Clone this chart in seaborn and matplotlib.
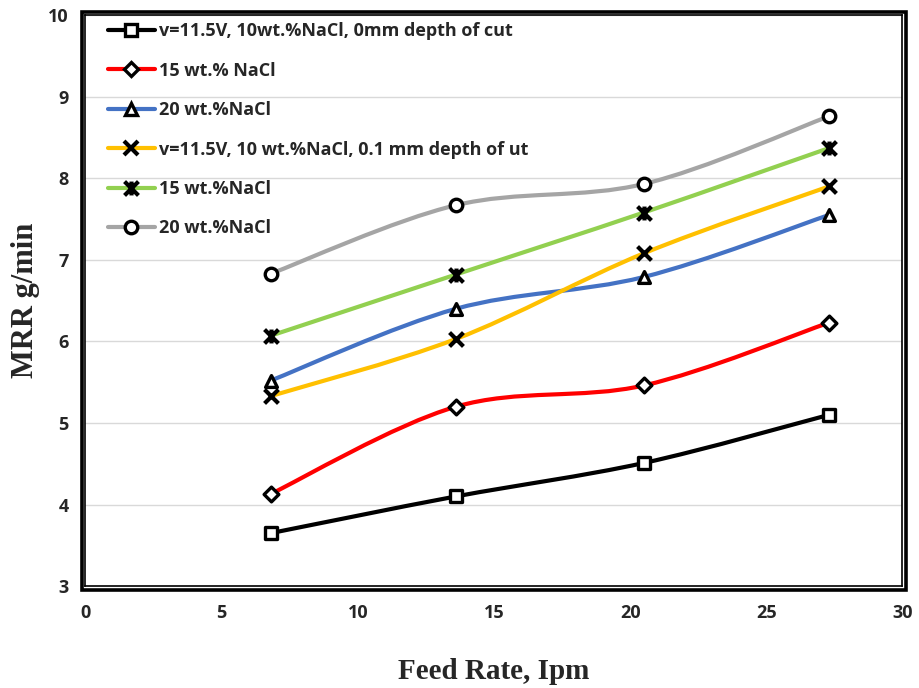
import numpy as np
import pandas as pd
import matplotlib
matplotlib.use("Agg")
import matplotlib.pyplot as plt
import seaborn as sns
from matplotlib.path import Path
from matplotlib.patches import PathPatch, Rectangle
from matplotlib.lines import Line2D

feed_rate = [6.8, 13.6, 20.5, 27.3]
labels = [
    "v=11.5V, 10wt.%NaCl, 0mm depth of cut",
    "15 wt.% NaCl",
    "20 wt.%NaCl",
    "v=11.5V, 10 wt.%NaCl, 0.1 mm depth of ut",
    "15 wt.%NaCl",
    "20 wt.%NaCl",
]
mrr_0mm_10 = [3.65, 4.10, 4.51, 5.10]
mrr_0mm_15 = [4.13, 5.20, 5.46, 6.23]
mrr_0mm_20 = [5.52, 6.40, 6.79, 7.55]
mrr_01mm_10 = [5.33, 6.03, 7.08, 7.90]
mrr_01mm_15 = [6.07, 6.82, 7.58, 8.37]
mrr_01mm_20 = [6.83, 7.67, 7.93, 8.76]

series = [mrr_0mm_10, mrr_0mm_15, mrr_0mm_20, mrr_01mm_10, mrr_01mm_15, mrr_01mm_20]
colors = ["#000000", "#FF0000", "#4472C4", "#FFC000", "#92D050", "#A5A5A5"]

star = Path([(-1, -1), (1, 1), (-1, 1), (1, -1), (0, -1), (0, 1)],
            [Path.MOVETO, Path.LINETO, Path.MOVETO, Path.LINETO, Path.MOVETO, Path.LINETO])
markers = ["s", "D", "^", "x", star, "o"]
msizes = [8.5, 7.5, 8.5, 10, 10, 9]

sns.set_theme(style="white")
plt.rcParams['font.family'] = ['DejaVu Sans']

fig = plt.figure(figsize=(9.19, 6.88), dpi=100)
ax = fig.add_axes([0.093, 0.148, 0.889, 0.830])


def smooth_path(xs, ys):
    pts = np.column_stack([xs, ys]).astype(float)
    n = len(pts)
    verts = [pts[0]]
    codes = [Path.MOVETO]
    for i in range(n - 1):
        p0 = pts[i - 1] if i > 0 else pts[i]
        p1 = pts[i]
        p2 = pts[i + 1]
        p3 = pts[i + 2] if i + 2 < n else pts[i + 1]
        c1 = p1 + (p2 - p0) / 6.0
        c2 = p2 - (p3 - p1) / 6.0
        verts += [c1, c2, p2]
        codes += [Path.CURVE4] * 3
    return Path(verts, codes)


LW = 3.0
handles = []
for vals, col, mk, ms in zip(series, colors, markers, msizes):
    ax.add_patch(PathPatch(smooth_path(feed_rate, vals), facecolor="none",
                           edgecolor=col, lw=LW, zorder=2, capstyle="round"))
    df = pd.DataFrame({"x": feed_rate, "y": vals})
    line_marker = isinstance(mk, Path) or mk == "x"
    if line_marker:
        sns.scatterplot(data=df, x="x", y="y", marker=mk, s=ms ** 2, color="black",
                        edgecolor="black", linewidth=3.0, ax=ax, zorder=3, legend=False)
        h = Line2D([], [], color=col, lw=LW, marker=mk, markersize=ms,
                   markeredgecolor="black", markerfacecolor="black", markeredgewidth=3.0)
    else:
        sns.scatterplot(data=df, x="x", y="y", marker=mk, s=ms ** 2, color="white",
                        edgecolor="black", linewidth=2.4, ax=ax, zorder=3, legend=False)
        h = Line2D([], [], color=col, lw=LW, marker=mk, markersize=ms,
                   markerfacecolor="white", markeredgecolor="black", markeredgewidth=2.4)
    handles.append(h)

ax.set_xlim(0, 30)
ax.set_ylim(3, 10)
ax.set_xticks(range(0, 31, 5))
ax.set_yticks(range(3, 11))
ax.yaxis.grid(True, color="#D9D9D9", lw=1.0)
ax.xaxis.grid(False)
ax.set_axisbelow(True)
ax.tick_params(axis="x", length=0, pad=13)
ax.tick_params(axis="y", length=0, pad=12)
for lab in ax.get_xticklabels() + ax.get_yticklabels():
    lab.set_fontfamily("Open Sans")
    lab.set_fontweight("bold")
    lab.set_fontsize(13)

# double frame: thin inner line + thick outer line
for sp in ax.spines.values():
    sp.set_visible(True)
    sp.set_color("black")
    sp.set_linewidth(1.2)
fw, fh = fig.get_size_inches() * fig.dpi
bbox = ax.get_position()
dx = 3.5 / (bbox.width * fw)
dy = 3.5 / (bbox.height * fh)
ax.add_patch(Rectangle((-dx, -dy), 1 + 2 * dx, 1 + 2 * dy, transform=ax.transAxes,
                       fill=False, edgecolor="black", lw=2.6, clip_on=False, zorder=5))

ax.set_xlabel("Feed Rate, Ipm", fontfamily="Liberation Serif", fontweight="bold",
              fontsize=21, labelpad=26)
ax.set_ylabel("MRR g/min", fontfamily="Liberation Serif", fontweight="bold",
              fontsize=22, labelpad=6)

ax.legend(handles, labels, loc="upper left", bbox_to_anchor=(0.012, 1.01),
          frameon=False, handlelength=2.6, handletextpad=0.25,
          labelspacing=1.19, borderaxespad=0.3,
          prop={"family": "Open Sans", "weight": "bold", "size": 13})

fig.savefig("out.png", dpi=100)
